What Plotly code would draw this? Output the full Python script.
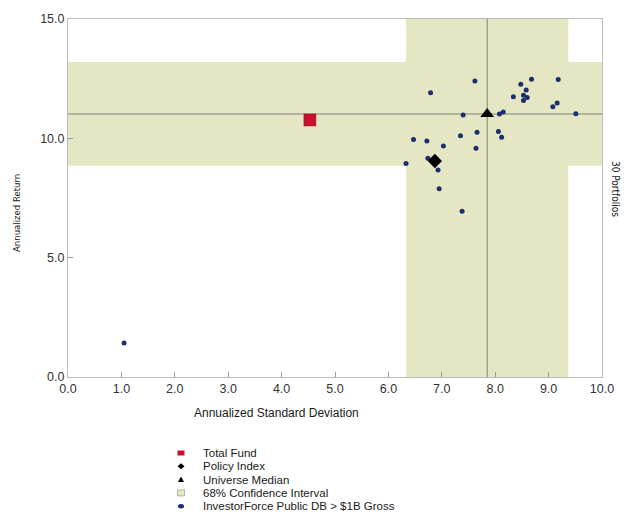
import plotly.graph_objects as go

# ---- data ----
peer_sd = [7.62, 6.79, 8.68, 9.18, 8.48, 8.58, 8.34, 8.53, 8.60, 8.53,
           9.16, 9.08, 9.51, 8.15, 8.08, 7.40, 7.66, 8.06, 8.12, 7.35,
           6.47, 6.72, 7.03, 7.64, 6.74, 6.33, 6.93, 6.95, 7.38, 1.05]
peer_ret = [12.40, 11.91, 12.48, 12.47, 12.27, 12.02, 11.74, 11.81, 11.71, 11.59,
            11.48, 11.32, 11.03, 11.10, 11.02, 10.98, 10.26, 10.29, 10.05, 10.11,
            9.95, 9.89, 9.68, 9.58, 9.17, 8.95, 8.67, 7.89, 6.94, 1.42]

total_fund_sd = [4.53]
total_fund_ret = [10.77]
policy_sd = [6.87]
policy_ret = [9.05]
median_sd = [7.85]
median_ret = [11.02]

ci_sd = [6.33, 9.37]      # 68% confidence interval, std dev
ci_ret = [8.85, 13.20]    # 68% confidence interval, return

x_ticks = [0, 1, 2, 3, 4, 5, 6, 7, 8, 9, 10]
y_ticks = [0, 5, 10, 15]

legend_labels = ["Total Fund", "Policy Index", "Universe Median",
                 "68% Confidence Interval", "InvestorForce Public DB > $1B Gross"]

# ---- styling ----
BAND = "#E5E7C4"
CROSS = "#808074"
NAVY = "#1B2F6E"
RED = "#C8102E"
FONT = "Liberation Sans, Arial, sans-serif"
NARROW = "Liberation Sans Narrow, Arial Narrow, DejaVu Sans Condensed, sans-serif"

fig = go.Figure()

fig.add_trace(go.Scatter(x=peer_sd, y=peer_ret, mode="markers",
                         marker=dict(symbol="circle", size=5, color=NAVY),
                         name=legend_labels[4]))
fig.add_trace(go.Scatter(x=policy_sd, y=policy_ret, mode="markers",
                         marker=dict(symbol="diamond", size=11, color="black"),
                         name=legend_labels[1]))
fig.add_trace(go.Scatter(x=median_sd, y=median_ret, mode="markers",
                         marker=dict(symbol="triangle-up", size=12, color="black"),
                         name=legend_labels[2]))
fig.add_trace(go.Scatter(x=total_fund_sd, y=total_fund_ret, mode="markers",
                         marker=dict(symbol="square", size=12, color=RED,
                                     line=dict(color="#8a0a1e", width=0.5)),
                         name=legend_labels[0]))

shapes = []
# confidence bands
shapes.append(dict(type="rect", xref="x", yref="y", x0=x_ticks[0], x1=x_ticks[-1],
                   y0=ci_ret[0], y1=ci_ret[1], fillcolor=BAND, line=dict(width=0),
                   layer="below"))
shapes.append(dict(type="rect", xref="x", yref="y", x0=ci_sd[0], x1=ci_sd[1],
                   y0=y_ticks[0], y1=y_ticks[-1], fillcolor=BAND, line=dict(width=0),
                   layer="below"))
# crosshair at universe median
shapes.append(dict(type="line", xref="x", yref="y", x0=median_sd[0], x1=median_sd[0],
                   y0=y_ticks[0], y1=y_ticks[-1], line=dict(color=CROSS, width=1),
                   layer="below"))
shapes.append(dict(type="line", xref="x", yref="y", x0=x_ticks[0], x1=x_ticks[-1],
                   y0=median_ret[0], y1=median_ret[0], line=dict(color=CROSS, width=1),
                   layer="below"))

# ---- manual legend (paper coords; plot area is 534 x 358 px) ----
def px_x(p):
    return (p - 68) / 534.0

def px_y(p):
    return (377 - p) / 358.0

rows = [453, 466.3, 479.6, 492.9, 506.2]
mx = px_x(181)
tx = px_x(201)

def pix_shape(kind, yrow, x0, x1, y0, y1, fill, line=None, path=None):
    d = dict(type=kind, xref="paper", yref="paper", xsizemode="pixel", ysizemode="pixel",
             xanchor=mx, yanchor=px_y(yrow), fillcolor=fill,
             line=line if line else dict(width=0))
    if path:
        d["path"] = path
    else:
        d.update(x0=x0, x1=x1, y0=y0, y1=y1)
    return d

shapes.append(pix_shape("rect", rows[0], -3.5, 3.5, -2.5, 2.5, RED))
shapes.append(pix_shape("path", rows[1], 0, 0, 0, 0, "black",
                        path="M -3.5 0 L 0 3 L 3.5 0 L 0 -3 Z"))
shapes.append(pix_shape("path", rows[2], 0, 0, 0, 0, "black",
                        path="M -3 -2.5 L 3 -2.5 L 0 3 Z"))
shapes.append(pix_shape("rect", rows[3], -3.5, 3.5, -3, 3, BAND,
                        line=dict(color="#9a9a8a", width=0.7)))
shapes.append(pix_shape("circle", rows[4], -3, 3, -2.2, 2.2, NAVY))

annotations = []
for lbl, r in zip(legend_labels, rows):
    annotations.append(dict(text=lbl, xref="paper", yref="paper", x=tx, y=px_y(r),
                            xanchor="left", yanchor="middle", showarrow=False,
                            font=dict(family=FONT, size=11.5, color="#1a1a1a")))

# axis titles
annotations.append(dict(text="Annualized Standard Deviation", xref="paper", yref="paper",
                        x=px_x(276), y=px_y(413), xanchor="center", yanchor="middle",
                        showarrow=False, font=dict(family=FONT, size=12, color="#1a1a1a")))
annotations.append(dict(text="Annualized Return", xref="paper", yref="paper",
                        x=px_x(17), y=px_y(213), xanchor="center", yanchor="middle",
                        textangle=-90, showarrow=False,
                        font=dict(family=NARROW, size=9.5, color="#1a1a1a")))
annotations.append(dict(text=f"{len(peer_sd)} Portfolios", xref="paper", yref="paper",
                        x=px_x(616), y=px_y(189), xanchor="center", yanchor="middle",
                        textangle=90, showarrow=False,
                        font=dict(family=NARROW, size=10, color="#1a1a1a")))

axis_common = dict(showgrid=False, zeroline=False, showline=True, linecolor="#BBBBBB",
                   linewidth=1, mirror=True, ticks="inside", ticklen=5, tickwidth=1,
                   tickcolor="#999999", tickformat=".1f",
                   tickfont=dict(family=FONT, size=12.5, color="#333333"))

fig.update_layout(
    width=636, height=512,
    margin=dict(l=68, r=34, t=19, b=135),
    paper_bgcolor="white", plot_bgcolor="white",
    showlegend=False, hovermode=False,
    shapes=shapes, annotations=annotations,
    xaxis=dict(range=[x_ticks[0], x_ticks[-1]], tickvals=x_ticks, **axis_common),
    yaxis=dict(range=[y_ticks[0], y_ticks[-1]], tickvals=y_ticks, **axis_common),
)

fig.write_html("out.html", config={"displayModeBar": False},
               post_script="document.body.style.margin='0';document.body.style.overflow='hidden';")
